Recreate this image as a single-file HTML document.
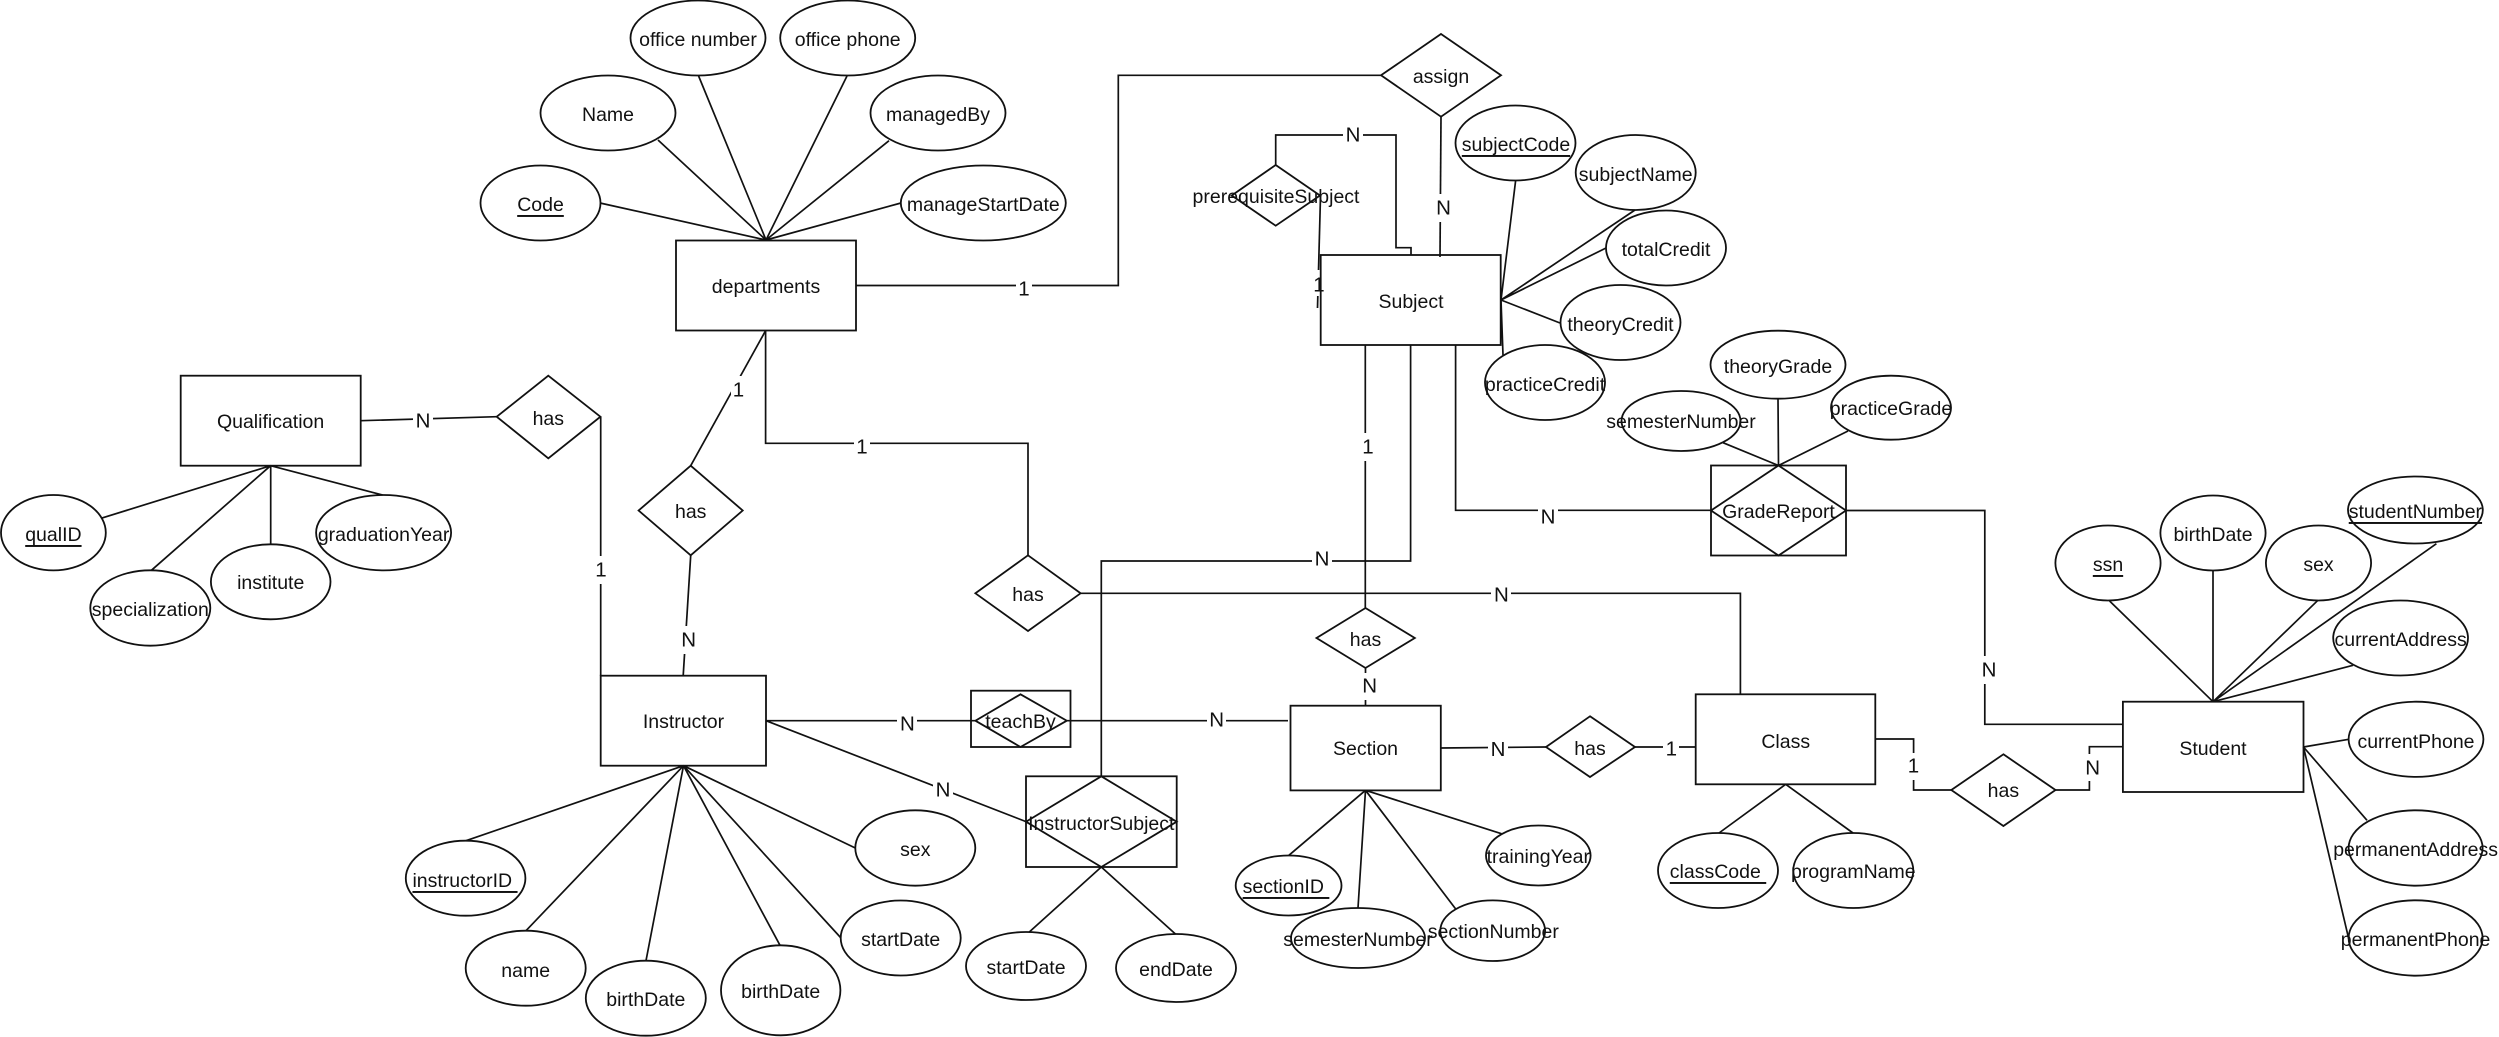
<!DOCTYPE html>
<html>
<head>
<meta charset="utf-8">
<title>ER Diagram</title>
<style>
html,body{margin:0;padding:0;background:#fff;width:2499px;height:1037px;overflow:hidden}
svg{display:block}
.s{fill:none;stroke:#111;stroke-width:1.8}
.l{fill:none;stroke:#111;stroke-width:1.7}
text{font-family:"Liberation Sans",sans-serif;font-size:19.5px;fill:#111;text-anchor:middle;dominant-baseline:central}
.u{text-decoration:underline}
.m text{font-size:20.5px}
</style>
</head>
<body>
<svg width="2499" height="1037" viewBox="0 0 2499 1037" xmlns="http://www.w3.org/2000/svg">
<rect width="2499" height="1037" fill="#fff"/>
<g class="l">
<!-- departments attrs -->
<path d="M600 203L766 240M658 140L766 240M698.6 76L766 240M847 76L766 240M889 140.7L766 240M901 203L766 240"/>
<!-- departments to assign -->
<path d="M856 285.5H1118.3V75.3H1381"/>
<path d="M1441 117L1440 257"/>
<!-- prerequisite -->
<path d="M1275.7 165V135H1396V247.7H1411V255"/>
<path d="M1320.5 196L1317.5 308"/>
<!-- subject attrs -->
<path d="M1515.7 180L1501 300M1635 210L1501 300M1606 248L1501 300M1560 323L1501 300M1503 355L1501 300"/>
<!-- subject down -->
<path d="M1365.3 345V608"/>
<path d="M1410.6 345V561H1101.3V776"/>
<path d="M1455.6 345V510.3H1711"/>
<!-- gradereport -->
<path d="M1846 510.5H1984.8V724.3H2122.8"/>
<path d="M1778 398.7L1778.5 465.5M1848 431L1778.5 465.5M1723 442.7L1778.5 465.5"/>
<!-- qualification -->
<path d="M360.7 420.7L496.7 416.7"/>
<path d="M600.7 417V675.7"/>
<path d="M101 518.3L270.6 465.7M151.4 570.3L270.6 465.7M270.7 544.3V465.7M382.5 495L270.6 465.7"/>
<!-- dept-instructor -->
<path d="M765.6 330.7L690.7 465.7"/>
<path d="M690.7 555.5L683.2 675.7"/>
<path d="M765.6 330.7V443.3H1028V555.3"/>
<path d="M1080.6 593.3H1740.4V694.3"/>
<path d="M1365.5 668V705.7"/>
<!-- instructor -->
<path d="M766 720.7H975.4"/>
<path d="M1067 720.7H1288"/>
<path d="M766 720.7L1027 822"/>
<path d="M466 840.7L683.5 765.7M526 930.7L683.5 765.7M646 960.7L683.5 765.7M780 945.3L683.5 765.7M841 938L683.5 765.7M855.3 848L683.5 765.7"/>
<!-- instructor subject -->
<path d="M1101.3 867L1029 932.3M1101.3 867L1175.7 934.3"/>
<!-- section -->
<path d="M1288.9 855.3L1365.5 790.3M1358 908L1365.5 790.3M1455.7 909L1365.5 790.3M1501.4 833.7L1365.5 790.3"/>
<path d="M1440.8 748L1546 747"/>
<path d="M1635 747H1695.7"/>
<!-- class -->
<path d="M1719 833L1785.7 784.3M1853 833L1785.7 784.3"/>
<path d="M1875.3 739H1913.6V790H1951.3"/>
<path d="M2055.5 790H2089.4V746.7H2122.8"/>
<!-- student -->
<path d="M2109.6 601L2213 701.7M2213 570.3V701.7M2317.9 600.3L2213 701.7M2436.4 543.7L2213 701.7M2353 665.3L2213 701.7"/>
<path d="M2303.5 747L2348.7 739.3M2303.5 747L2367 820.3M2303.5 747L2348.7 938.7"/>
</g>

<!-- label backgrounds -->
<g fill="#fff">
<rect x="1016" y="277" width="16" height="24"/>
<rect x="1434" y="194" width="19" height="28"/>
<rect x="1343" y="122" width="20" height="26"/>
<rect x="1311" y="270" width="14" height="26"/>
<rect x="1360" y="433" width="16" height="28"/>
<rect x="1312" y="545" width="20" height="28"/>
<rect x="1538" y="504" width="20" height="26"/>
<rect x="1979" y="656" width="20" height="28"/>
<rect x="413" y="408" width="20" height="26"/>
<rect x="594" y="556" width="14" height="28"/>
<rect x="731" y="376" width="15" height="28"/>
<rect x="679" y="626" width="19" height="28"/>
<rect x="854" y="433" width="16" height="28"/>
<rect x="1491" y="581" width="20" height="28"/>
<rect x="1360" y="673" width="19" height="27"/>
<rect x="897" y="710" width="20" height="27"/>
<rect x="1207" y="707" width="19" height="27"/>
<rect x="933" y="776" width="20" height="28"/>
<rect x="1488" y="736" width="20" height="27"/>
<rect x="1663" y="735" width="16" height="28"/>
<rect x="1906" y="753" width="15" height="27"/>
<rect x="2083" y="754" width="19" height="27"/>
</g>

<!-- entities -->
<g class="s">
<rect x="676" y="240.5" width="180" height="90"/>
<rect x="1320.7" y="255" width="180" height="90"/>
<rect x="180.7" y="375.7" width="180" height="90"/>
<rect x="600.7" y="675.7" width="165.3" height="90"/>
<rect x="1290.5" y="705.7" width="150.3" height="84.7"/>
<rect x="1695.7" y="694.3" width="179.6" height="90"/>
<rect x="2122.9" y="701.7" width="180.6" height="90.3"/>
<rect x="971" y="690.7" width="99.5" height="56.3"/>
<rect x="1026" y="776.3" width="150.7" height="90.7"/>
<rect x="1711" y="465.5" width="135" height="90"/>
<!-- diamonds -->
<polygon points="1441,34 1501,75.3 1441,116.7 1381,75.3"/>
<polygon points="1275.7,165 1320,195.5 1275.7,225.7 1231.7,195.5"/>
<polygon points="548.3,375.7 600.4,416.7 548.3,458.3 496.7,416.7"/>
<polygon points="690.7,465.7 742.7,510.5 690.7,555.3 638.6,510.5"/>
<polygon points="1028,555.3 1080.6,593.3 1028,631 975.4,593.3"/>
<polygon points="1365.5,608 1414.8,638 1365.5,668 1316.5,638"/>
<polygon points="1590,716.3 1635,747 1590,777 1546,747"/>
<polygon points="2003.4,754.3 2055.5,790 2003.4,826 1951.3,790"/>
<polygon points="1020.5,694.3 1066.8,720.7 1020.5,747 975.4,720.7"/>
<polygon points="1101.3,776.3 1176.7,821.7 1101.3,867 1026,821.7"/>
<polygon points="1778.5,465.5 1846,510.5 1778.5,555.5 1711,510.5"/>
<!-- ellipses -->
<ellipse cx="698" cy="38" rx="67.5" ry="37.5"/>
<ellipse cx="847.7" cy="38" rx="67.5" ry="37.5"/>
<ellipse cx="608" cy="113" rx="67.5" ry="37.5"/>
<ellipse cx="938" cy="113" rx="67.5" ry="37.5"/>
<ellipse cx="540.5" cy="203" rx="60" ry="37.5"/>
<ellipse cx="983.3" cy="203" rx="82.5" ry="37.5"/>
<ellipse cx="1515.5" cy="143" rx="60" ry="37.5"/>
<ellipse cx="1635.7" cy="172.5" rx="60" ry="37.5"/>
<ellipse cx="1666" cy="248" rx="60" ry="37.5"/>
<ellipse cx="1620.5" cy="322.5" rx="60" ry="37.5"/>
<ellipse cx="1545" cy="382.5" rx="60" ry="37.5"/>
<ellipse cx="1778" cy="364.7" rx="67.5" ry="34"/>
<ellipse cx="1891" cy="407.7" rx="60" ry="32"/>
<ellipse cx="1681" cy="421" rx="59.5" ry="30"/>
<ellipse cx="53.4" cy="532.7" rx="52.4" ry="37.7"/>
<ellipse cx="150.3" cy="608" rx="60" ry="37.7"/>
<ellipse cx="270.7" cy="581.8" rx="59.8" ry="37.5"/>
<ellipse cx="383.6" cy="532.7" rx="67.5" ry="37.7"/>
<ellipse cx="465.6" cy="878.2" rx="59.8" ry="37.5"/>
<ellipse cx="525.7" cy="968.2" rx="60" ry="37.5"/>
<ellipse cx="645.8" cy="998.2" rx="60" ry="37.5"/>
<ellipse cx="780.7" cy="990.3" rx="59.7" ry="45"/>
<ellipse cx="900.7" cy="938" rx="60" ry="37.5"/>
<ellipse cx="915.3" cy="848" rx="60" ry="37.7"/>
<ellipse cx="1026" cy="966" rx="60" ry="34"/>
<ellipse cx="1176" cy="968" rx="60" ry="34"/>
<ellipse cx="1288.6" cy="885.5" rx="52.9" ry="30"/>
<ellipse cx="1358" cy="938" rx="67" ry="30"/>
<ellipse cx="1492.7" cy="930.7" rx="52.4" ry="30.3"/>
<ellipse cx="1538.3" cy="855.5" rx="52.3" ry="30"/>
<ellipse cx="1718" cy="870.5" rx="60" ry="37.5"/>
<ellipse cx="1853.3" cy="870.5" rx="60" ry="37.5"/>
<ellipse cx="2108" cy="563" rx="52.6" ry="37.5"/>
<ellipse cx="2213" cy="533" rx="52.6" ry="37.5"/>
<ellipse cx="2318.5" cy="563" rx="52.6" ry="37.5"/>
<ellipse cx="2415.4" cy="510" rx="67.4" ry="33.5"/>
<ellipse cx="2400.6" cy="638" rx="67.4" ry="37.5"/>
<ellipse cx="2416" cy="739.3" rx="67.4" ry="37.6"/>
<ellipse cx="2415.6" cy="848" rx="67" ry="37.7"/>
<ellipse cx="2415.6" cy="938" rx="67" ry="37.7"/>
</g>

<!-- texts -->
<g transform="translate(0,1)">
<text x="698" y="39">office number</text>
<text x="847.7" y="39">office phone</text>
<text x="608" y="114">Name</text>
<text x="938" y="114">managedBy</text>
<text x="540.5" y="204" class="u">Code</text>
<text x="983.3" y="204">manageStartDate</text>
<text x="766" y="286">departments</text>
<text x="1441" y="76">assign</text>
<text x="1276" y="196">prerequisiteSubject</text>
<text x="1411" y="301">Subject</text>
<text x="1516" y="144" class="u">subjectCode</text>
<text x="1635.7" y="174">subjectName</text>
<text x="1666" y="249">totalCredit</text>
<text x="1620.5" y="324">theoryCredit</text>
<text x="1545" y="384">practiceCredit</text>
<text x="1778" y="366">theoryGrade</text>
<text x="1891" y="408">practiceGrade</text>
<text x="1681" y="421">semesterNumber</text>
<text x="1778.5" y="511">GradeReport</text>
<text x="270.6" y="421">Qualification</text>
<text x="548.3" y="418">has</text>
<text x="690.7" y="511">has</text>
<text x="1028" y="594">has</text>
<text x="1365.5" y="639">has</text>
<text x="1590" y="748">has</text>
<text x="2003.4" y="790">has</text>
<text x="53.4" y="534" class="u">qualID</text>
<text x="150.3" y="609">specialization</text>
<text x="270.7" y="582">institute</text>
<text x="383.6" y="534">graduationYear</text>
<text x="683.5" y="721">Instructor</text>
<text x="1020.5" y="721">teachBy</text>
<text x="1101.3" y="823">InstructorSubject</text>
<text x="1365.5" y="748">Section</text>
<text x="1785.7" y="741">Class</text>
<text x="2213" y="748">Student</text>
<text x="465" y="880" class="u">instructorID&#160;</text>
<text x="525.7" y="970">name</text>
<text x="645.8" y="999">birthDate</text>
<text x="780.7" y="991">birthDate</text>
<text x="900.7" y="939">startDate</text>
<text x="915.3" y="849">sex</text>
<text x="1026" y="967">startDate</text>
<text x="1176" y="969">endDate</text>
<text x="1286" y="886" class="u">sectionID&#160;</text>
<text x="1358" y="939">semesterNumber</text>
<text x="1493.3" y="931">sectionNumber</text>
<text x="1538.3" y="856">trainingYear</text>
<text x="1718" y="871" class="u">classCode&#160;</text>
<text x="1853.3" y="871">programName</text>
<text x="2108" y="564" class="u">ssn</text>
<text x="2213" y="534">birthDate</text>
<text x="2318.5" y="564">sex</text>
<text x="2415.4" y="511" class="u">studentNumber</text>
<text x="2400.6" y="639">currentAddress</text>
<text x="2416" y="741">currentPhone</text>
<text x="2415.6" y="849">permanentAddress</text>
<text x="2415.6" y="939">permanentPhone</text>
</g>

<!-- connector labels -->
<g class="m">
<text x="1024" y="289">1</text>
<text x="1443.5" y="208">N</text>
<text x="1353" y="135">N</text>
<text x="1319" y="285">1</text>
<text x="1368" y="447">1</text>
<text x="1322" y="559">N</text>
<text x="1548" y="517">N</text>
<text x="1989" y="670">N</text>
<text x="423" y="421">N</text>
<text x="601" y="570">1</text>
<text x="738.5" y="390">1</text>
<text x="688.6" y="640">N</text>
<text x="862" y="447">1</text>
<text x="1501.4" y="595">N</text>
<text x="1369.6" y="686">N</text>
<text x="907.4" y="724">N</text>
<text x="1216.6" y="720">N</text>
<text x="943" y="790">N</text>
<text x="1498" y="749.5">N</text>
<text x="1671.3" y="749">1</text>
<text x="1913.5" y="766">1</text>
<text x="2092.6" y="768">N</text>
</g>
</svg>
</body>
</html>
